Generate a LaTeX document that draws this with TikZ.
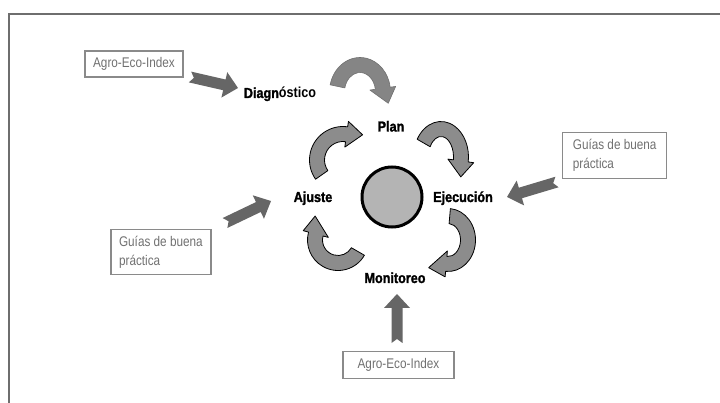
\documentclass[tikz,border=0pt]{standalone}
\usepackage{fontspec}
\setmainfont{Liberation Sans}
\newfontfamily\narrowfont{Liberation Sans}[FakeStretch=0.84]
\newfontfamily\labelfont{Liberation Sans Bold}[FakeStretch=0.87]
\newfontfamily\heavyfont{Liberation Sans Bold}[FakeStretch=0.87, FakeBold=1.6]
\usetikzlibrary{calc}

\definecolor{framegray}{HTML}{6E6E6E}
\definecolor{boxgray}{HTML}{8A8A8A}
\definecolor{textgray}{HTML}{707070}
\definecolor{blockgray}{HTML}{666666}
\definecolor{bentgray}{HTML}{8C8C8C}
\definecolor{hubgray}{HTML}{B4B4B4}

% curved arrow: style, centre x, centre y, x radius, y radius, start, end, tip direction, head length
\newcommand{\bentarrow}[9]{%
	\pgfmathsetmacro{\oxr}{#4+7.5}\pgfmathsetmacro{\oyr}{#5+7.5}
	\pgfmathsetmacro{\ixr}{#4-7.5}\pgfmathsetmacro{\iyr}{#5-7.5}
	\pgfmathsetmacro{\hxo}{#4+13}\pgfmathsetmacro{\hyo}{#5+13}
	\pgfmathsetmacro{\hxi}{#4-13}\pgfmathsetmacro{\hyi}{#5-13}
	\pgfmathsetmacro{\tipx}{#4*cos(#7)+#9*cos(#8)}
	\pgfmathsetmacro{\tipy}{#5*sin(#7)+#9*sin(#8)}
	\begin{scope}[shift={(#2,-#3)}]
		\draw[#1] (#6:\oxr pt and \oyr pt) arc[start angle=#6, end angle=#7, x radius=\oxr pt, y radius=\oyr pt]
			-- (#7:\hxo pt and \hyo pt) -- (\tipx pt,\tipy pt) -- (#7:\hxi pt and \hyi pt)
			-- (#7:\ixr pt and \iyr pt) arc[start angle=#7, end angle=#6, x radius=\ixr pt, y radius=\iyr pt] -- cycle;
	\end{scope}}

% straight notched arrow between two named coordinates
\newcommand{\blockarrow}[2]{%
	\coordinate (base) at ($(#2)!14pt!(#1)$);
	\fill[blockgray] ($(#1)!5.5pt!90:(#2)$) -- ($(base)!5.5pt!90:(#2)$)
		-- ($(base)!13pt!90:(#2)$) -- (#2)
		-- ($(base)!13pt!-90:(#2)$) -- ($(base)!5.5pt!-90:(#2)$)
		-- ($(#1)!5.5pt!-90:(#2)$) -- ($(#1)!4pt!(#2)$) -- cycle;}

\begin{document}
\begin{tikzpicture}[x=1pt,y=1pt]
	\tikzset{
		stage/.style={font=\heavyfont\fontsize{14.5}{16}\selectfont, anchor=base, inner sep=0pt},
		source/.style={draw=boxgray, line width=1.2pt, text=textgray, align=left, inner sep=0pt,
			font=\narrowfont\fontsize{14}{19}\selectfont},
		hub/.style={circle, draw=black, line width=3pt, fill=hubgray, minimum size=60pt, inner sep=0pt},
		bent/.style={fill=bentgray, draw=black, line width=0.8pt, line join=round},
		bentlight/.style={fill=bentgray!95!black, draw=bentgray!80!black, line width=0.6pt, line join=round}
	}
	\useasboundingbox (0,0) rectangle (720,-403);

	% Draw the frame
	\draw[framegray, line width=2pt] (9,-403) -- (9,-14) -- (720,-14);

	% the cycle
	\node[hub] (hub) at (392,-197) {};
	\node[stage] (diag) at (280,-98) {Diagn{\labelfont óstico}};
	\node[stage] (plan) at (391,-131.5) {Plan};
	\node[stage] (ejec) at (463,-202) {Ejecución};
	\node[stage] (moni) at (395,-283) {Monitoreo};
	\node[stage] (ajus) at (313,-202) {Ajuste};

	\bentarrow{bentlight}{360}{92}{23}{27}{168}{8}{-70}{16}
	\bentarrow{bent}{441}{157}{20}{28}{150}{-8}{-90}{16}
	\bentarrow{bent}{448}{240}{20}{24}{85}{-95}{192}{18}
	\bentarrow{bent}{338}{240}{23}{23}{-30}{-195}{92}{18}
	\bentarrow{bent}{343}{160}{26}{26}{215}{82}{-2}{16}

	% the inputs
	\node[source, minimum width=98pt, minimum height=26pt] (aei top) at (134,-64) {Agro-Eco-Index};
	\node[source, minimum width=104pt, minimum height=46pt] (guia right) at (614.7,-155.3) {Guías de buena\\práctica};
	\node[source, minimum width=100pt, minimum height=45pt] (guia left) at (160.9,-251.8) {Guías de buena\\práctica};
	\node[source, minimum width=111pt, minimum height=27pt] (aei bottom) at (398.5,-364.6) {Agro-Eco-Index};

	\coordinate (in1) at (190,-77);  \coordinate (out1) at (238,-88);
	\coordinate (in2) at (225,-223); \coordinate (out2) at (271,-201);
	\coordinate (in3) at (557,-182); \coordinate (out3) at (507,-197);
	\coordinate (in4) at (397,-343); \coordinate (out4) at (397,-294);
	\blockarrow{in1}{out1}
	\blockarrow{in2}{out2}
	\blockarrow{in3}{out3}
	\blockarrow{in4}{out4}
\end{tikzpicture}
\end{document}
